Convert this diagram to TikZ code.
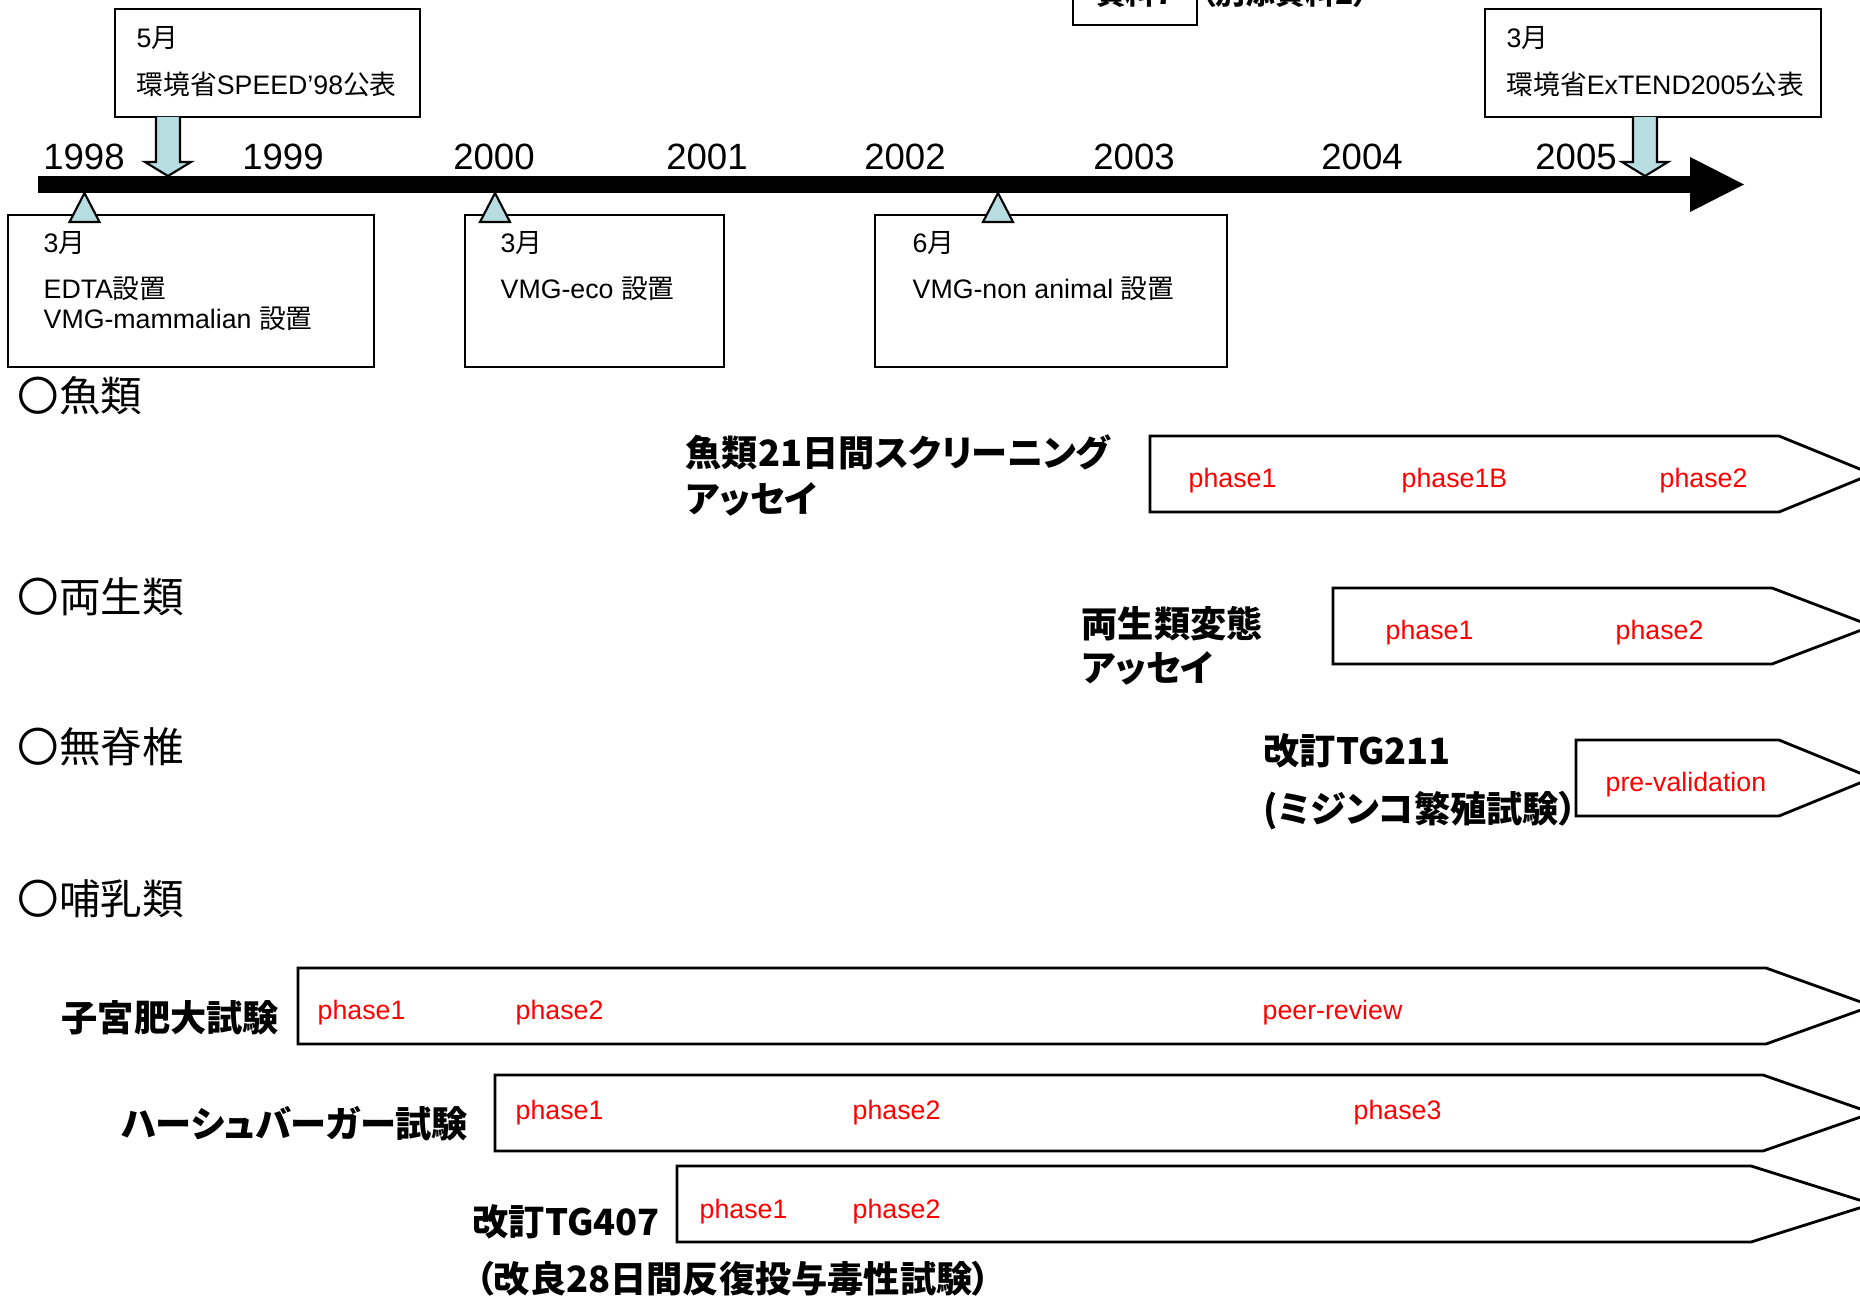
\documentclass[tikz,border=0pt]{standalone}
\usepackage{fontspec}
\setmainfont{Liberation Sans}
\newfontfamily\jpfont{Noto Sans CJK JP}[RawFeature=+palt]
\usepackage{tikz}
\usetikzlibrary{calc}
\tikzset{>=latex}
\definecolor{mycyan}{RGB}{183,221,224}
\newcommand{\ja}[1]{{\jpfont #1}}
\newcommand{\boxfont}{\fontsize{7.6}{9}\selectfont}
\newcommand{\yearfont}{\fontsize{10.4}{12}\selectfont}
\newcommand{\testfont}{\jpfont\bfseries\fontsize{10.3}{12}\selectfont}
\newcommand{\catfont}{\jpfont\fontsize{11.8}{14}\selectfont}
% left, top, bottom, shoulder
\newcommand{\phasebar}[4]{\draw[line width=0.8pt, fill=white] (#1,#2) -- (#4,#2) -- (1872,{(#2+#3)/2}) -- (#4,#3) -- (#1,#3) -- cycle;}

\begin{document}
\begin{tikzpicture}[x=0.01cm, y=-0.01cm,
  txt/.style={anchor=base west, inner sep=0pt, font=\boxfont},
  phase/.style={anchor=base west, inner sep=0pt, text=red, font=\boxfont},
  testname/.style={anchor=base west, inner sep=0pt, font=\testfont},
  catname/.style={anchor=base west, inner sep=0pt, font=\catfont},
  yearlbl/.style={anchor=base, inner sep=0pt, font=\yearfont}]
\useasboundingbox (0,0) rectangle (1860,1297);

% cut-off header
\draw[line width=0.6pt] (1073,-40) rectangle (1197,25);
\node[anchor=base, inner sep=0pt, font=\jpfont\bfseries\fontsize{8.5}{10}\selectfont] (doc) at (1135,5) {資料7};
\node[anchor=base west, inner sep=0pt, font=\jpfont\bfseries\fontsize{8.5}{10}\selectfont] (docref) at (1200,5) {（別添資料2）};

% time line
\fill (38,176) rectangle (1690,193);
\fill (1690,157) -- (1744,184.5) -- (1690,212) -- cycle;
\foreach \yr/\x in {1998/84, 1999/283, 2000/494, 2001/707, 2002/905, 2003/1134, 2004/1362, 2005/1576}{
\node[yearlbl] (y\yr) at (\x,170) {\yr};
}

% events above
\draw[line width=0.6pt] (115,9) rectangle (420,117);
\node[txt] (speedm) at (136,48) {5\ja{月}};
\node[txt] (speed) at (136,95) {\ja{環境省}SPEED’98\ja{公表}};
\draw[line width=0.6pt] (1485,9) rectangle (1821,117);
\node[txt] (extendm) at (1506,48) {3\ja{月}};
\node[txt] (extend) at (1506,95) {\ja{環境省}ExTEND2005\ja{公表}};
\foreach \cx in {168, 1645}{
\draw[line width=0.6pt, fill=mycyan] (\cx-12,117) -- (\cx-12,162) -- (\cx-23,162) -- (\cx,176) -- (\cx+23,162) -- (\cx+12,162) -- (\cx+12,117);
}

% events below
\draw[line width=0.6pt] (8,215) rectangle (374,367);
\draw[line width=0.6pt] (465,215) rectangle (724,367);
\draw[line width=0.6pt] (875,215) rectangle (1227,367);
\foreach \cx in {84.5, 495, 998}{
\draw[line width=0.6pt, fill=mycyan] (\cx,193) -- (\cx+15,222) -- (\cx-15,222) -- cycle;
}
\node[txt] (edtam) at (43,252) {3\ja{月}};
\node[txt] (edta) at (43,298) {EDTA\ja{設置}};
\node[txt] (mammal) at (43,328) {VMG-mammalian \ja{設置}};
\node[txt] (ecom) at (500,252) {3\ja{月}};
\node[txt] (eco) at (500,298) {VMG-eco \ja{設置}};
\node[txt] (nonm) at (912,252) {6\ja{月}};
\node[txt] (non) at (912,299) {VMG-non animal \ja{設置}};

% groups
\node[catname] (fish) at (17,412) {〇魚類};
\node[catname] (amph) at (17,612) {〇両生類};
\node[catname] (invert) at (17,762) {〇無脊椎};
\node[catname] (mammals) at (17,914) {〇哺乳類};

% fish
\phasebar{1150}{436}{512}{1779}
\node[testname] (fisha) at (685,466) {魚類21日間スクリーニング};
\node[testname] (fishb) at (685,512) {アッセイ};
\foreach \t/\x in {phase1/1188, phase1B/1401, phase2/1659}{
\node[phase] (fish\t) at (\x,487) {\t};
}

% amphibian
\phasebar{1333}{588}{664}{1772}
\node[testname] (ampha) at (1081,637) {両生類変態};
\node[testname] (amphb) at (1081,681) {アッセイ};
\foreach \t/\x in {phase1/1385, phase2/1615}{
\node[phase] (amph\t) at (\x,639) {\t};
}

% daphnia
\phasebar{1576}{740}{816}{1779}
\node[testname] (tga) at (1263,764) {改訂TG211};
\node[testname] (tgb) at (1263,822) {(ミジンコ繁殖試験）};
\node[phase] (prev) at (1605,791) {pre-validation};

% uterotrophic
\phasebar{298}{968}{1044}{1766}
\node[testname] (utero) at (61,1031) {子宮肥大試験};
\foreach \t/\x in {phase1/317, phase2/515, peer-review/1262}{
\node[phase] (utero\t) at (\x,1019) {\t};
}

% hershberger
\phasebar{495}{1075}{1151}{1763}
\node[testname] (hersh) at (121,1137) {ハーシュバーガー試験};
\foreach \t/\x in {phase1/515, phase2/852, phase3/1353}{
\node[phase] (hersh\t) at (\x,1119) {\t};
}

% TG407
\phasebar{677}{1166}{1242}{1751}
\node[testname] (tgc) at (472,1235) {改訂TG407};
\node[testname] (tgd) at (475,1292) {（改良28日間反復投与毒性試験）};
\foreach \t/\x in {phase1/699, phase2/852}{
\node[phase] (tg\t) at (\x,1218) {\t};
}
\end{tikzpicture}
\end{document}
